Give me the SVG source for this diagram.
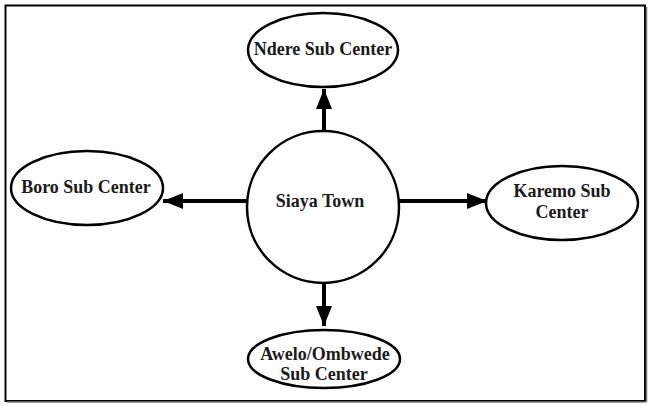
<svg xmlns="http://www.w3.org/2000/svg" width="652" height="406" viewBox="0 0 652 406">
<style>
.n{fill:#fff;stroke:#000;stroke-width:2.5}
.t{font-family:"Liberation Serif","Times New Roman",serif;font-weight:bold;font-size:18px;fill:#1a1a1a;text-anchor:middle}
.c{stroke:#000;stroke-width:4;fill:none}
</style>
<defs>
<marker id="ah" viewBox="0 0 20 16" refX="20" refY="8" markerWidth="20" markerHeight="16" markerUnits="userSpaceOnUse" orient="auto">
<path d="M0,0 L20,8 L0,16 Z" fill="#000"/>
</marker>
</defs>
<rect x="0" y="0" width="652" height="406" fill="#fff"/>
<rect x="5.5" y="5.5" width="639.5" height="395.5" fill="none" stroke="#000" stroke-width="2"/>
<line x1="7" y1="402" x2="646" y2="402" stroke="#777" stroke-width="1.5"/>
<line x1="646.5" y1="7" x2="646.5" y2="402" stroke="#777" stroke-width="1.5"/>
<g id="connectors">
<line class="c" x1="324" y1="131" x2="324" y2="89" marker-end="url(#ah)"/>
<line class="c" x1="247" y1="201" x2="163" y2="201" marker-end="url(#ah)"/>
<line class="c" x1="399" y1="201" x2="487" y2="201" marker-end="url(#ah)"/>
<line class="c" x1="324" y1="283" x2="324" y2="326" marker-end="url(#ah)"/>
</g>
<g id="siaya">
<circle class="n" cx="323" cy="207" r="76"/>
<text class="t" x="320" y="207">Siaya Town</text>
</g>
<g id="ndere">
<ellipse class="n" cx="323" cy="50" rx="75" ry="37"/>
<text class="t" x="323" y="55">Ndere Sub Center</text>
</g>
<g id="boro">
<ellipse class="n" cx="87" cy="188" rx="76" ry="37"/>
<text class="t" x="86" y="193">Boro Sub Center</text>
</g>
<g id="karemo">
<ellipse class="n" cx="562" cy="203" rx="76" ry="37"/>
<text class="t" x="562" y="197">Karemo Sub</text>
<text class="t" x="562" y="218">Center</text>
</g>
<g id="awelo">
<ellipse class="n" cx="324" cy="359" rx="76" ry="29"/>
<text class="t" x="325" y="360">Awelo/Ombwede</text>
<text class="t" x="324" y="380">Sub Center</text>
</g>
</svg>
